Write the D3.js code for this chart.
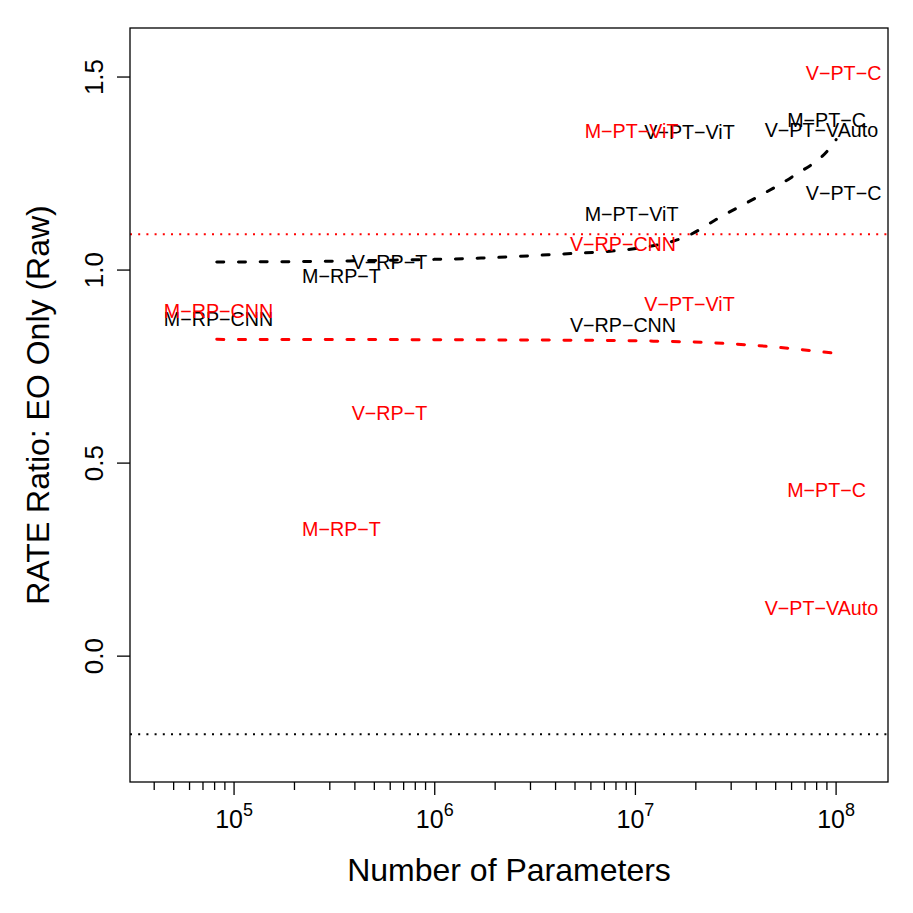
<!DOCTYPE html>
<html>
<head>
<meta charset="utf-8">
<script src="https://cdn.jsdelivr.net/npm/d3@7"></script>
<style>
	body { margin: 0; background: #fff; }
	svg text { font-family: "Liberation Sans", Arial, sans-serif; }
</style>
</head>
<body>
<svg id="chart" width="913" height="913"></svg>
<script>
// models and their parameter counts
var models = ["M−RP−CNN", "M−RP−T", "V−RP−T", "V−RP−CNN", "M−PT−ViT", "V−PT−ViT", "V−PT−VAuto", "M−PT−C", "V−PT−C"];
var params = [8.37e4, 3.43e5, 5.95e5, 8.67e6, 9.57e6, 1.86e7, 8.45e7, 8.96e7, 1.09e8];

// ratio per model, black and red series
var ratioBlack = [0.873, 0.984, 1.021, 0.858, 1.145, 1.358, 1.363, 1.389, 1.199];
var ratioRed = [0.894, 0.329, 0.630, 1.067, 1.360, 0.912, 0.124, 0.430, 1.510];

// smoothed trend lines
var trendBlackX = [8.2e4, 2.1e5, 6.7e5, 1.7e6, 4.1e6, 7.5e6, 1.14e7, 1.61e7, 1.81e7, 2.64e7, 4.04e7, 6.1e7, 9.3e7, 1.0e8];
var trendBlackY = [1.021, 1.022, 1.026, 1.031, 1.041, 1.049, 1.060, 1.078, 1.088, 1.137, 1.189, 1.243, 1.316, 1.338];
var trendRedX = [8.2e4, 3.3e6, 1.17e7, 2.4e7, 4.8e7, 1.0e8];
var trendRedY = [0.8205, 0.8187, 0.8161, 0.8117, 0.8013, 0.7842];

// horizontal reference lines
var refRed = 1.093;
var refBlack = -0.202;

var yTicks = [0, 0.5, 1.0, 1.5];
var xTicks = [1e5, 1e6, 1e7, 1e8];
var xMinor = [4e4, 5e4, 6e4, 7e4, 8e4, 9e4,
	2e5, 3e5, 4e5, 5e5, 6e5, 7e5, 8e5, 9e5,
	2e6, 3e6, 4e6, 5e6, 6e6, 7e6, 8e6, 9e6,
	2e7, 3e7, 4e7, 5e7, 6e7, 7e7, 8e7, 9e7];

function draw(){
	var svg = d3.select("#chart");
	var pLeft = 130, pRight = 888, pTop = 28, pBottom = 782;

	var x = d3.scaleLog().domain([3.03e4, 1.814e8]).range([pLeft, pRight]);
	var y = d3.scaleLinear().domain([-0.326, 1.627]).range([pBottom, pTop]);

	// reference lines
	svg.append("line")
		.attr("x1", pLeft).attr("x2", pRight)
		.attr("y1", y(refRed)).attr("y2", y(refRed))
		.attr("stroke", "#ff0000").attr("stroke-width", 2)
		.attr("stroke-dasharray", "2,6.2");
	svg.append("line")
		.attr("x1", pLeft).attr("x2", pRight)
		.attr("y1", y(refBlack)).attr("y2", y(refBlack))
		.attr("stroke", "#000").attr("stroke-width", 2)
		.attr("stroke-dasharray", "2,6.2");

	// trend lines
	var line = d3.line()
		.x(function(d){ return x(d[0]); })
		.y(function(d){ return y(d[1]); })
		.curve(d3.curveMonotoneX);

	svg.append("path")
		.datum(d3.zip(trendBlackX, trendBlackY))
		.attr("d", line)
		.attr("fill", "none").attr("stroke", "#000").attr("stroke-width", 3)
		.attr("stroke-linecap", "round").attr("stroke-dasharray", "7,14.7");
	svg.append("path")
		.datum(d3.zip(trendRedX, trendRedY))
		.attr("d", line)
		.attr("fill", "none").attr("stroke", "#ff0000").attr("stroke-width", 3)
		.attr("stroke-linecap", "round").attr("stroke-dasharray", "7,14.7");

	// labels at the points
	function drawLabels(vals, color){
		svg.append("g").selectAll("text")
			.data(models)
			.enter().append("text")
			.attr("x", function(d, i){ return x(params[i]); })
			.attr("y", function(d, i){ return y(vals[i]); })
			.attr("dy", "0.36em")
			.attr("text-anchor", "middle")
			.attr("font-size", 19.7)
			.attr("fill", color)
			.text(function(d){ return d; });
	}
	drawLabels(ratioBlack, "#000");
	drawLabels(ratioRed, "#ff0000");

	// box
	svg.append("rect")
		.attr("x", pLeft).attr("y", pTop)
		.attr("width", pRight - pLeft).attr("height", pBottom - pTop)
		.attr("fill", "none").attr("stroke", "#000").attr("stroke-width", 1.3);

	// x axis
	var xAxis = svg.append("g").attr("transform", "translate(0," + pBottom + ")");
	xAxis.selectAll("line.minor")
		.data(xMinor).enter().append("line")
		.attr("x1", function(d){ return x(d); }).attr("x2", function(d){ return x(d); })
		.attr("y1", 0).attr("y2", 8)
		.attr("stroke", "#000").attr("stroke-width", 1.3);
	xAxis.selectAll("line.major")
		.data(xTicks).enter().append("line")
		.attr("x1", function(d){ return x(d); }).attr("x2", function(d){ return x(d); })
		.attr("y1", 0).attr("y2", 13)
		.attr("stroke", "#000").attr("stroke-width", 1.3);
	var xl = xAxis.selectAll("text.tick")
		.data(xTicks).enter().append("text")
		.attr("x", function(d){ return x(d); })
		.attr("y", 46)
		.attr("text-anchor", "middle")
		.attr("font-size", 25);
	xl.append("tspan").text("10");
	xl.append("tspan")
		.attr("dy", -12)
		.attr("font-size", 18)
		.text(function(d){ return Math.round(Math.log10(d)); });

	svg.append("text")
		.attr("x", (pLeft + pRight) / 2)
		.attr("y", 881)
		.attr("text-anchor", "middle")
		.attr("font-size", 32)
		.text("Number of Parameters");

	// y axis
	var yAxis = svg.append("g").attr("transform", "translate(" + pLeft + ",0)");
	yAxis.selectAll("line")
		.data(yTicks).enter().append("line")
		.attr("x1", 0).attr("x2", -13)
		.attr("y1", function(d){ return y(d); }).attr("y2", function(d){ return y(d); })
		.attr("stroke", "#000").attr("stroke-width", 1.3);
	yAxis.selectAll("text")
		.data(yTicks).enter().append("text")
		.attr("transform", function(d){ return "translate(-27," + y(d) + ") rotate(-90)"; })
		.attr("text-anchor", "middle")
		.attr("font-size", 26)
		.text(function(d){ return d3.format(".1f")(d); });

	svg.append("text")
		.attr("transform", "translate(48.5," + (pTop + pBottom) / 2 + ") rotate(-90)")
		.attr("text-anchor", "middle")
		.attr("font-size", 32)
		.text("RATE Ratio: EO Only (Raw)");
}

draw();
</script>
</body>
</html>
